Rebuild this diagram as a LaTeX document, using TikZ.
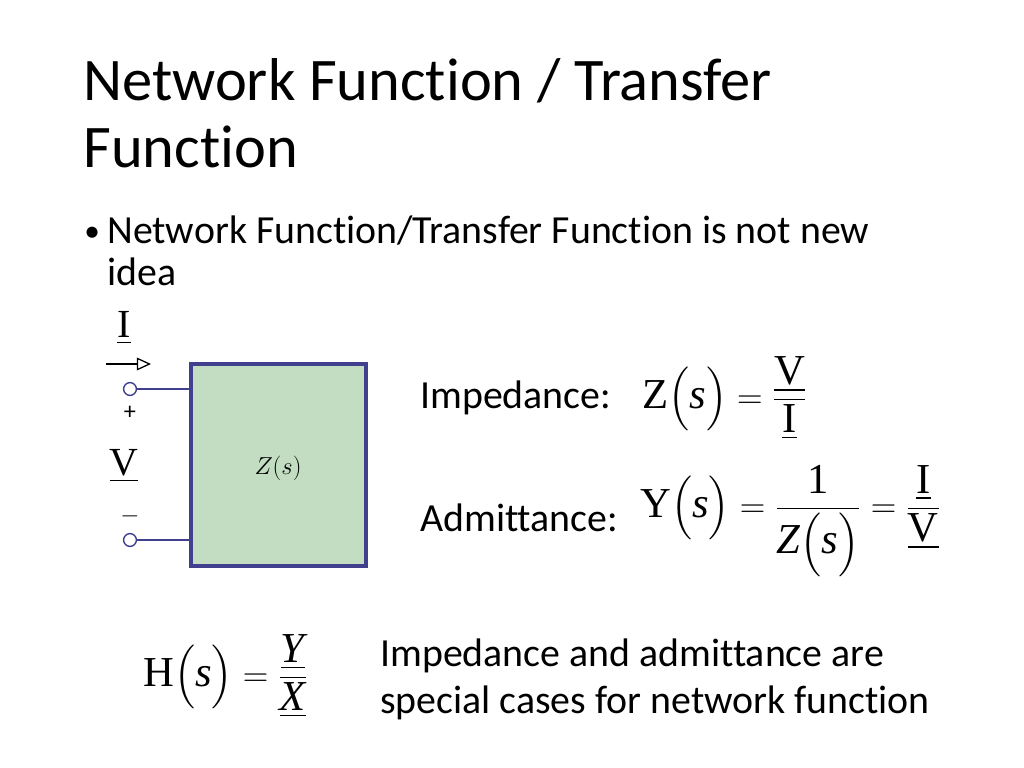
\documentclass[tikz,border=0pt]{standalone}
\usepackage{amsmath}
\usepackage{fontspec}
\setmainfont{Carlito}[Ligatures=NoCommon]
\newfontfamily\eqfont{Liberation Serif}
\usetikzlibrary{arrows.meta}
\definecolor{boxfill}{HTML}{C2DDC2}
\definecolor{boxline}{HTML}{40408F}
\tikzset{
  txt/.style={anchor=base west,inner sep=0pt,font=\fontsize{28}{32}\selectfont},
  eqn/.style={anchor=west,inner sep=0pt,font=\eqfont\fontsize{30}{36}\selectfont},
  term/.style={circle,draw=boxline,fill=white,line width=1pt,minimum size=9pt,inner sep=0pt}
}
\newcommand{\ul}[1]{\underline{\text{\eqfont #1}}}
\newcommand{\sv}{\text{\eqfont\itshape s}}
\begin{document}
\begin{tikzpicture}[x=0.703pt,y=-0.703pt]
\useasboundingbox (0,0) rectangle (1024,768);
% title and bullet
\node[txt,font=\fontsize{42.5}{50}\selectfont] (title1) at (83,100) {Network Function / Transfer};
\node[txt,font=\fontsize{42.5}{50}\selectfont] (title2) at (83,167) {Function};
\node[txt,font=\fontsize{22}{26}\selectfont] (bul) at (84,241) {\textbullet};
\node[txt] (line1) at (107,243) {Network Function/Transfer Function is not new};
\node[txt] (line2) at (107,285) {idea};
% two-port box
\node[draw=boxline,fill=boxfill,line width=2.2pt,minimum width=123pt,minimum height=142pt,inner sep=0pt] (zbox) at (278.5,465) {};
\node[font=\fontsize{19}{21}\selectfont] (zlbl) at (278,468) {$Z(s)$};
\node[term] (tp) at (130,389) {};
\node[term] (tm) at (130,540) {};
\draw[boxline,line width=1pt] (tp) -- (tp -| zbox.west);
\draw[boxline,line width=1pt] (tm) -- (tm -| zbox.west);
\node[font=\fontsize{17}{19}\selectfont] (plus) at (130,413) {+};
\node[font=\fontsize{17}{19}\selectfont] (minus) at (130,516) {$-$};
\node[eqn,anchor=center,font=\eqfont\fontsize{28}{30}\selectfont] (vlbl) at (124,466) {\underline{V}};
\node[eqn,anchor=center,font=\eqfont\fontsize{28}{30}\selectfont] (ilbl) at (124,328) {\underline{I}};
\coordinate (a1) at (106,364);
\coordinate (a2) at (151,364);
\draw[-{Triangle[open,length=10pt,width=9pt]},line width=0.9pt] (a1) -- (a2);
% equations
\node[txt] (imp) at (420,408) {Impedance:};
\node[eqn] (zeq) at (642,398) {$\text{Z}\Bigl(\sv\Bigr)=\dfrac{\ul{V}}{\ul{I}}$};
\node[txt] (adm) at (420,531) {Admittance:};
\node[eqn] (yeq) at (640,521) {$\text{Y}\Bigl(\sv\Bigr)=\dfrac{\text{1}}{\text{\eqfont\itshape Z}\Bigl(\sv\Bigr)}=\dfrac{\ul{I}}{\ul{V}}$};
\node[eqn] (heq) at (143,676) {$\text{H}\Bigl(\sv\Bigr)=\dfrac{\ul{\itshape Y}}{\ul{\itshape X}}$};
\node[txt] (note1) at (380,666) {Impedance and admittance are};
\node[txt] (note2) at (380,713) {special cases for network function};
\end{tikzpicture}
\end{document}
